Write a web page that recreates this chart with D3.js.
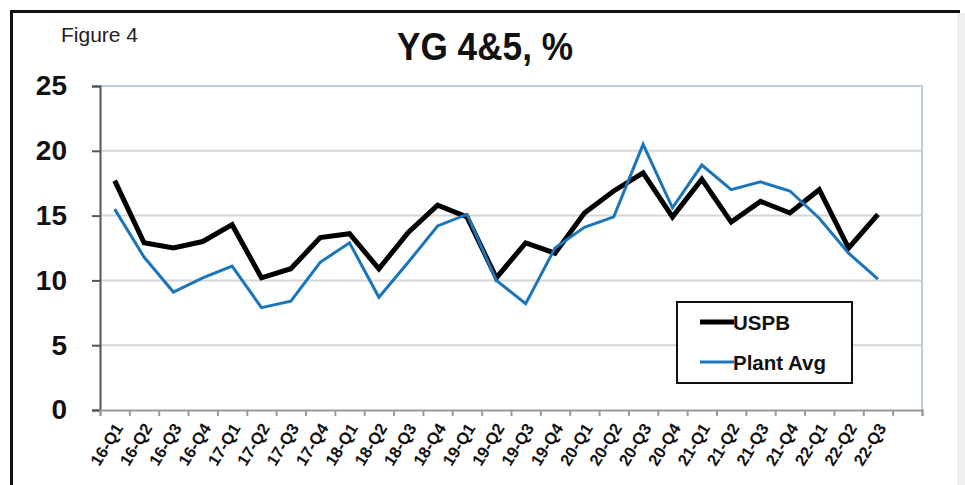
<!DOCTYPE html>
<html>
<head>
<meta charset="utf-8">
<script src="https://cdn.jsdelivr.net/npm/d3@7"></script>
<style>
    html, body { margin: 0; padding: 0; background: #fff; }
    svg { display: block; font-family: Arial, "Liberation Sans", sans-serif; }
</style>
</head>
<body>
<div id="chart"></div>
<script>
    // quarter labels, one spare slot is left empty at the end of the axis
    var categories = ['16-Q1', '16-Q2', '16-Q3', '16-Q4', '17-Q1', '17-Q2', '17-Q3', '17-Q4',
        '18-Q1', '18-Q2', '18-Q3', '18-Q4', '19-Q1', '19-Q2', '19-Q3', '19-Q4',
        '20-Q1', '20-Q2', '20-Q3', '20-Q4', '21-Q1', '21-Q2', '21-Q3', '21-Q4',
        '22-Q1', '22-Q2', '22-Q3'];
    var uspb = [17.7, 12.9, 12.5, 13.0, 14.3, 10.2, 10.9, 13.3, 13.6, 10.9, 13.7, 15.8, 14.9, 10.2,
        12.9, 12.1, 15.2, 16.9, 18.3, 14.9, 17.8, 14.5, 16.1, 15.2, 17.0, 12.5, 15.1];
    var plantAvg = [15.5, 11.8, 9.1, 10.2, 11.1, 7.9, 8.4, 11.4, 12.9, 8.7, 11.4, 14.2, 15.1, 10.0,
        8.2, 12.5, 14.1, 14.9, 20.5, 15.6, 18.9, 17.0, 17.6, 16.9, 14.8, 12.1, 10.1];
    var yTicks = [0, 5, 10, 15, 20, 25];
    var seriesNames = ['USPB', 'Plant Avg'];

    var width = 965, height = 485;
    var margin = { top: 86, right: 43, bottom: 75, left: 100 };
    var plotW = width - margin.left - margin.right;
    var plotH = height - margin.top - margin.bottom;

    var svg = d3.select('#chart')
        .append('svg')
        .attr('width', width)
        .attr('height', height);

    // outer frame of the figure
    svg.append('rect')
        .attr('x', 957).attr('y', 13)
        .attr('width', 8).attr('height', height - 13)
        .attr('fill', '#efefef');
    svg.append('line')
        .attr('x1', 10).attr('x2', 960)
        .attr('y1', 11.5).attr('y2', 11.5)
        .attr('stroke', '#111').attr('stroke-width', 3);
    svg.append('line')
        .attr('x1', 11.5).attr('x2', 11.5)
        .attr('y1', 10).attr('y2', height)
        .attr('stroke', '#111').attr('stroke-width', 3);

    svg.append('text')
        .attr('x', 61).attr('y', 42)
        .attr('font-size', 20)
        .attr('textLength', 77)
        .attr('lengthAdjust', 'spacingAndGlyphs')
        .attr('fill', '#222')
        .text('Figure 4');

    svg.append('text')
        .attr('x', 397).attr('y', 60)
        .attr('font-size', 38)
        .attr('font-weight', 'bold')
        .attr('textLength', 176)
        .attr('lengthAdjust', 'spacingAndGlyphs')
        .attr('fill', '#111')
        .text('YG 4&5, %');

    var g = svg.append('g')
        .attr('transform', 'translate(' + margin.left + ',' + margin.top + ')');

    var slots = categories.length + 1;
    var x = d3.scaleLinear().domain([0, slots]).range([0, plotW]);
    var y = d3.scaleLinear().domain([0, 25]).range([plotH, 0]);

    // gridlines
    g.selectAll('.grid')
        .data(yTicks.filter(function (d) { return d > 0 && d < 25; }))
        .enter()
        .append('line')
        .attr('x1', 0).attr('x2', plotW)
        .attr('y1', function (d) { return y(d); })
        .attr('y2', function (d) { return y(d); })
        .attr('stroke', '#d6d6d6').attr('stroke-width', 2);

    // plot area border top and right
    g.append('path')
        .attr('d', 'M0,' + y(25) + 'H' + plotW + 'V' + plotH)
        .attr('fill', 'none')
        .attr('stroke', '#b7cde0').attr('stroke-width', 2);

    // y axis
    var yAxis = g.append('g')
        .call(d3.axisLeft(y).tickValues(yTicks).tickSize(8).tickPadding(25));
    yAxis.select('.domain').attr('stroke', '#555').attr('stroke-width', 2);
    yAxis.selectAll('.tick line').attr('stroke', '#555').attr('stroke-width', 2);
    yAxis.selectAll('.tick text')
        .attr('font-size', 28).attr('font-weight', 'bold')
        .attr('font-family', 'Arial, "Liberation Sans", sans-serif')
        .attr('fill', '#111');

    // x axis, ticks between categories
    var xAxis = g.append('g')
        .attr('transform', 'translate(0,' + plotH + ')')
        .call(d3.axisBottom(x).tickValues(d3.range(slots + 1)).tickSize(6).tickFormat(''));
    xAxis.select('.domain').attr('stroke', '#999').attr('stroke-width', 2);
    xAxis.selectAll('.tick line').attr('stroke', '#999').attr('stroke-width', 2);

    g.selectAll('.xlabel')
        .data(categories)
        .enter()
        .append('text')
        .attr('class', 'xlabel')
        .attr('transform', function (d, i) {
            return 'translate(' + (x(i + 0.5) + 4) + ',' + (plotH + 15) + ') rotate(-58)';
        })
        .attr('text-anchor', 'end')
        .attr('dy', '0.35em')
        .attr('font-size', 16.5)
        .attr('font-weight', 'bold')
        .attr('fill', '#111')
        .text(function (d) { return d; });

    var line = d3.line()
        .x(function (d, i) { return x(i + 0.5); })
        .y(function (d) { return y(d); });

    g.append('path')
        .datum(uspb)
        .attr('d', line)
        .attr('fill', 'none')
        .attr('stroke', '#000')
        .attr('stroke-width', 5)
        .attr('stroke-linejoin', 'miter');

    g.append('path')
        .datum(plantAvg)
        .attr('d', line)
        .attr('fill', 'none')
        .attr('stroke', '#1b75bb')
        .attr('stroke-width', 3);

    // legend
    var legend = svg.append('g')
        .attr('transform', 'translate(677,302)');
    legend.append('rect')
        .attr('width', 175).attr('height', 81)
        .attr('fill', '#fff')
        .attr('stroke', '#111').attr('stroke-width', 2);
    var legendColors = ['#000', '#1b75bb'];
    var legendWidths = [5, 3];
    var item = legend.selectAll('.item')
        .data(seriesNames)
        .enter()
        .append('g')
        .attr('transform', function (d, i) { return 'translate(0,' + (20 + i * 40) + ')'; });
    item.append('line')
        .attr('x1', 23).attr('x2', 57)
        .attr('stroke', function (d, i) { return legendColors[i]; })
        .attr('stroke-width', function (d, i) { return legendWidths[i]; });
    item.append('text')
        .attr('x', 56).attr('y', 8)
        .attr('font-size', 20.5)
        .attr('font-weight', 'bold')
        .attr('fill', '#111')
        .text(function (d) { return d; });
</script>
</body>
</html>
